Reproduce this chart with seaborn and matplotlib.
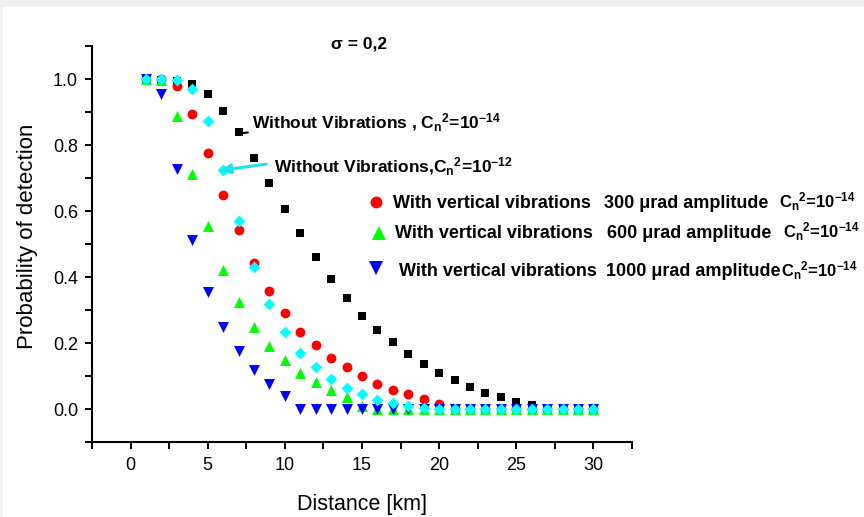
import matplotlib
matplotlib.use("Agg")
import matplotlib.pyplot as plt
import seaborn as sns
import pandas as pd
from matplotlib.ticker import MultipleLocator
from matplotlib.patches import Rectangle

# ---------------- data ----------------
distance = [1, 2, 3, 4, 5, 6, 7, 8, 9, 10, 11, 12, 13, 14, 15,
            16, 17, 18, 19, 20, 21, 22, 23, 24, 25, 26, 27, 28, 29, 30]

p_novib_cn14 = [1.000, 0.998, 0.994, 0.984, 0.955, 0.903, 0.838, 0.761, 0.684, 0.605,
                0.533, 0.460, 0.394, 0.337, 0.283, 0.240, 0.203, 0.166, 0.137, 0.110,
                0.088, 0.068, 0.050, 0.037, 0.022, 0.012, 0.000, 0.000, 0.000, 0.000]

p_novib_cn12 = [1.000, 1.000, 0.998, 0.970, 0.872, 0.723, 0.569, 0.430, 0.319, 0.234,
                0.170, 0.126, 0.090, 0.063, 0.044, 0.028, 0.017, 0.009, 0.002, 0.000,
                0.000, 0.000, 0.000, 0.000, 0.000, 0.000, 0.000, 0.000, 0.000, 0.000]

p_vib300 = [1.000, 1.000, 0.978, 0.895, 0.775, 0.650, 0.542, 0.443, 0.359, 0.291,
            0.234, 0.194, 0.154, 0.126, 0.100, 0.077, 0.059, 0.044, 0.030, 0.015,
            0.000, 0.000, 0.000, 0.000, 0.000, 0.000, 0.000, 0.000, 0.000, 0.000]

p_vib600 = [1.000, 0.997, 0.887, 0.713, 0.556, 0.422, 0.324, 0.248, 0.190, 0.147,
            0.110, 0.081, 0.059, 0.037, 0.009, 0.000, 0.000, 0.000, 0.000, 0.000,
            0.000, 0.000, 0.000, 0.000, 0.000, 0.000, 0.000, 0.000, 0.000, 0.000]

p_vib1000 = [1.000, 0.956, 0.728, 0.511, 0.354, 0.247, 0.176, 0.119, 0.076, 0.040,
             0.000, 0.000, 0.000, 0.000, 0.000, 0.000, 0.000, 0.000, 0.000, 0.000,
             0.000, 0.000, 0.000, 0.000, 0.000, 0.000, 0.000, 0.000, 0.000, 0.000]

x_ticks = [0, 5, 10, 15, 20, 25, 30]
y_ticks = [0.0, 0.2, 0.4, 0.6, 0.8, 1.0]
y_tick_labels = ["0.0", "0.2", "0.4", "0.6", "0.8", "1.0"]

title_text = "σ = 0,2"
label_novib14 = r"Without Vibrations , C$_{n}$$^{2}$=10$^{-14}$"
label_novib12 = r"Without Vibrations,C$_{n}$$^{2}$=10$^{-12}$"
label_vib_head = "With vertical vibrations"
label_vib_amp = ["300 μrad amplitude", "600 μrad amplitude", "1000 μrad amplitude"]
label_cn = r"C$_{n}$$^{2}$=10$^{-14}$"

# ---------------- style ----------------
sns.set_theme(style="ticks")
plt.rcParams['font.family'] = ['Liberation Sans', 'DejaVu Sans']
plt.rcParams['mathtext.fontset'] = 'custom'
plt.rcParams['mathtext.rm'] = 'Liberation Sans:bold'
plt.rcParams['mathtext.it'] = 'Liberation Sans:bold'
plt.rcParams['mathtext.bf'] = 'Liberation Sans:bold'
plt.rcParams['mathtext.sf'] = 'Liberation Sans:bold'

fig = plt.figure(figsize=(8.64, 5.17), dpi=100, facecolor='white')
# light grey frame remnants of the screenshot
fig.patches.append(Rectangle((0, 1 - 7 / 517), 1, 7 / 517, transform=fig.transFigure,
                             facecolor='#f2f2f2', edgecolor='none', zorder=-5))
fig.patches.append(Rectangle((0, 0), 3 / 864, 1, transform=fig.transFigure,
                             facecolor='#f2f2f2', edgecolor='none', zorder=-5))

ax = fig.add_axes([92 / 864, 1 - 442 / 517, 540 / 864, 396 / 517])
ax.set_facecolor('white')

series = [
    (p_novib_cn14, 's', 'black', 40),
    (p_vib300, 'o', '#ff0000', 50),
    (p_vib600, '^', '#00ff00', 62),
    (p_vib1000, 'v', '#0000ff', 62),
    (p_novib_cn12, 'D', '#00ffff', 36),
]
for i, (vals, mk, col, sz) in enumerate(series):
    df = pd.DataFrame({"Distance": distance, "P": vals})
    sns.scatterplot(data=df, x="Distance", y="P", marker=mk, color=col, s=sz,
                    linewidth=0, ax=ax, zorder=3 + i, legend=False)

ax.set_xlim(-2.5, 32.5)
ax.set_ylim(-0.1, 1.1)
ax.xaxis.set_minor_locator(MultipleLocator(2.5))
ax.set_xticks(x_ticks)
ax.set_xticklabels([str(t) for t in x_ticks])
ax.yaxis.set_minor_locator(MultipleLocator(0.1))
ax.set_yticks(y_ticks)
ax.set_yticklabels(y_tick_labels)

for side in ['top', 'right']:
    ax.spines[side].set_visible(False)
for side in ['left', 'bottom']:
    ax.spines[side].set_linewidth(1.5)
    ax.spines[side].set_color('black')
ax.tick_params(axis='both', which='both', direction='out', length=5, width=1.4,
               color='black')
ax.tick_params(axis='x', which='major', labelsize=13, pad=6, labelcolor='black')
ax.tick_params(axis='y', which='major', labelsize=13, pad=5, labelcolor='black')

ax.set_xlabel("Distance [km]", fontsize=15.5, color='black', labelpad=14)
ax.set_ylabel("Probability of detection", fontsize=16, color='black')
ax.yaxis.set_label_coords(-0.1, 0.52)

# title-like annotation
ax.text(14.8, 1.106, title_text, fontsize=12.5, fontweight='bold', ha='center',
        va='center', clip_on=False, color='black')

# in-plot labels
ax.text(7.85, 0.848, label_novib14, fontsize=12.5, fontweight='bold', ha='left',
        va='baseline', color='black', zorder=10)
ax.plot([7.26, 7.6], [0.836, 0.838], color='black', lw=1.5, zorder=9)
ax.text(9.27, 0.716, label_novib12, fontsize=12.5, fontweight='bold', ha='left',
        va='baseline', color='black', zorder=10)
ax.annotate('', xy=(5.84, 0.723), xytext=(8.8, 0.742),
            arrowprops=dict(arrowstyle='-|>', color='#1ee0f0', lw=2.2,
                            mutation_scale=14, shrinkA=0, shrinkB=0), zorder=9)

# legend-like rows
rows = [
    ('o', '#ff0000', 8.5, 15.93, 0.627, 0.610, 17.0, 30.67, 42.0),
    ('^', '#00ff00', 9.5, 16.10, 0.534, 0.519, 17.17, 30.87, 42.3),
    ('v', '#0000ff', 9.5, 15.93, 0.428, 0.402, 17.4, 30.80, 42.15),
]
for (mk, col, ms, mx, my, by, tx, ax2, cx), amp in zip(rows, label_vib_amp):
    ax.plot([mx], [my], marker=mk, color=col, markersize=ms, linestyle='none',
            markeredgewidth=0, clip_on=False, zorder=10)
    ax.text(tx, by, label_vib_head, fontsize=13, fontweight='bold', ha='left',
            va='baseline', clip_on=False, color='black')
    ax.text(ax2, by, amp, fontsize=13, fontweight='bold', ha='left',
            va='baseline', clip_on=False, color='black')
    ax.text(cx, by, label_cn, fontsize=12, fontweight='bold', ha='left',
            va='baseline', clip_on=False, color='black')

fig.savefig("out.png", dpi=100, facecolor=fig.get_facecolor())
